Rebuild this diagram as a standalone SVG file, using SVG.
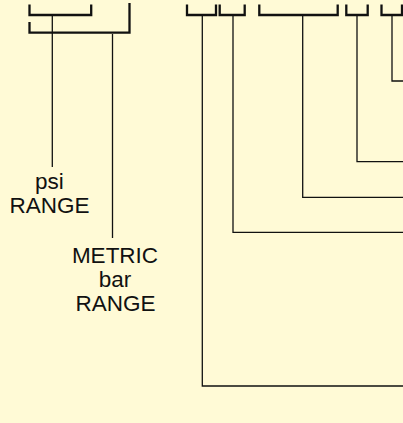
<svg xmlns="http://www.w3.org/2000/svg" width="403" height="423" viewBox="0 0 403 423">
<style>
.bk{fill:none;stroke:#111;stroke-width:2.3;stroke-linecap:butt;stroke-linejoin:miter}
.ln{fill:none;stroke:#111;stroke-width:1.3}
.lb{font-family:"Liberation Sans",Arial,sans-serif;font-size:22.5px;fill:#111;text-anchor:middle}
</style>
<rect width="403" height="423" fill="#FFFAD6"/>
<g id="bracket-psi"><path class="bk" d="M29.5 4.5V15H91.2V4.5"/></g>
<g id="bracket-metric"><path class="bk" d="M29.5 22V32.6H129.5V3"/></g>
<g id="bracket-1"><path class="bk" d="M187 4.5V15H216V4.5"/></g>
<g id="bracket-2"><path class="bk" d="M219.7 4.5V15H244.7V4.5"/></g>
<g id="bracket-3"><path class="bk" d="M259.3 4.5V15H337.7V4.5"/></g>
<g id="bracket-4"><path class="bk" d="M346.3 4.5V15H367.7V4.5"/></g>
<g id="bracket-5"><path class="bk" d="M381.5 4.5V15H402V4.5"/></g>
<g id="label-psi"><text class="lb" x="49.5" y="189">psi</text><text class="lb" x="49.5" y="213">RANGE</text></g>
<g id="label-metric"><text class="lb" x="115" y="263">METRIC</text><text class="lb" x="115" y="287">bar</text><text class="lb" x="115.5" y="311">RANGE</text></g>
<g id="connectors">
<path class="ln" d="M52.3 16V167"/>
<path class="ln" d="M112.5 34V238"/>
<path class="ln" d="M202.3 16V386H403"/>
<path class="ln" d="M233 16V232.3H403"/>
<path class="ln" d="M302.7 16V197.3H403"/>
<path class="ln" d="M357 16V161.7H403"/>
<path class="ln" d="M392 16V81H403"/>
</g>
</svg>
